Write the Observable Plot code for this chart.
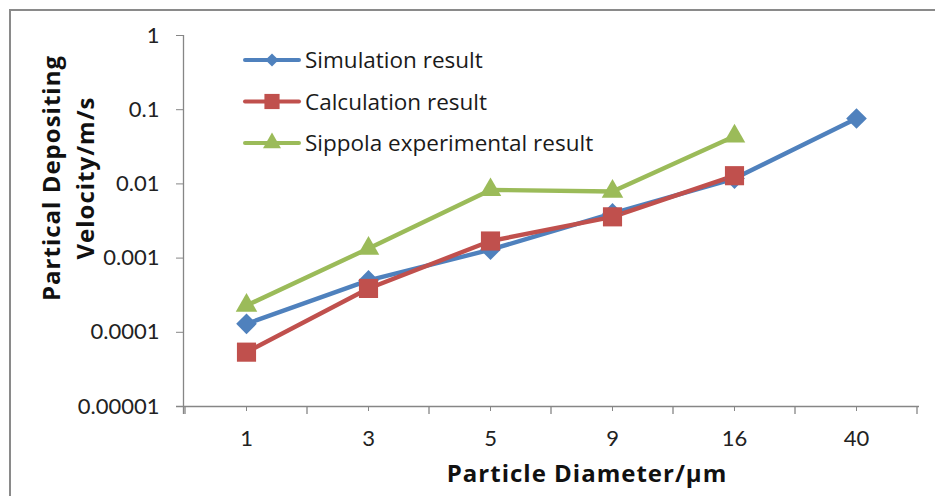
<!DOCTYPE html>
<html><head><meta charset="utf-8">
<script src="https://cdn.jsdelivr.net/npm/d3@7"></script>
<script src="https://cdn.jsdelivr.net/npm/@observablehq/plot@0.6"></script>
<style>body{margin:0;background:#fff;overflow:hidden;} #chart{width:935px;height:496px;}</style>
</head><body><div id="chart"></div>
<script>
// ---- data ----
const diameters = ["1", "3", "5", "9", "16", "40"];
const simulation = [1.3e-4, 5.0e-4, 1.3e-3, 4.0e-3, 0.0118, 0.076];
const calculation = [5.4e-5, 3.9e-4, 1.7e-3, 3.6e-3, 0.0129, null];
const sippola = [2.3e-4, 1.35e-3, 8.3e-3, 7.9e-3, 0.044, null];
const yTicks = [1e-5, 1e-4, 1e-3, 1e-2, 1e-1, 1];
const yTickLabels = ["0.00001", "0.0001", "0.001", "0.01", "0.1", "1"];
const seriesNames = ["Simulation result", "Calculation result", "Sippola experimental result"];
const seriesColors = ["#4F81BD", "#C0504D", "#9BBB59"];
const xTitle = "Particle Diameter/µm";
const yTitleLines = ["Partical Depositing", "Velocity/m/s"];

const seriesValues = [simulation, calculation, sippola];
const rows = seriesValues.map(vals => diameters.map((d, i) => ({d, v: vals[i]})).filter(r => r.v != null));

const FONT = "Open Sans, sans-serif";
const TICKFONT = "Lato, sans-serif";
const AXIS = "#868686";

function frameMark(index, scales, values, dims) {
  const g = d3.create("svg:g");
  const x = scales.x;
  const step = x(diameters[1]) - x(diameters[0]);
  const left = dims.marginLeft, right = dims.width - dims.marginRight;
  const top = dims.marginTop, bottom = dims.height - dims.marginBottom;
  g.append("rect").attr("x", 10).attr("y", 10).attr("width", dims.width).attr("height", dims.height)
    .attr("fill", "none").attr("stroke", "#8a8a8a").attr("stroke-width", 2);
  g.append("line").attr("x1", left + 0.5).attr("x2", left + 0.5).attr("y1", top).attr("y2", bottom + 8).attr("stroke", AXIS).attr("stroke-width", 1.3);
  g.append("line").attr("x1", left - 7).attr("x2", right).attr("y1", bottom + 0.5).attr("y2", bottom + 0.5).attr("stroke", AXIS).attr("stroke-width", 1.3);
  const bounds = diameters.map(d => x(d) - step / 2).concat([x(diameters[diameters.length - 1]) + step / 2]);
  bounds.forEach(b => g.append("line").attr("x1", b).attr("x2", b).attr("y1", bottom).attr("y2", bottom + 8).attr("stroke", AXIS).attr("stroke-width", 1.3));
  return g.node();
}

function titleMark(index, scales, values, dims) {
  const g = d3.create("svg:g").attr("fill", "#111").attr("font-family", FONT).attr("font-weight", "bold").attr("font-size", 24);
  const left = dims.marginLeft, right = dims.width - dims.marginRight;
  const bottom = dims.height - dims.marginBottom;
  g.append("text").attr("x", (left + right) / 2 + 36).attr("y", bottom + 76).attr("text-anchor", "middle")
    .style("letter-spacing", "1px").text(xTitle);
  const cy = 178, cx = [50, 84];
  yTitleLines.forEach((t, i) => {
    g.append("text").attr("transform", `translate(${cx[i]},${cy}) rotate(-90)`).attr("text-anchor", "middle")
      .attr("dominant-baseline", "central").style("letter-spacing", "1px").text(t);
  });
  return g.node();
}

function legendMark(index, scales, values, dims) {
  const g = d3.create("svg:g");
  const syms = [d3.symbolDiamond2, d3.symbolSquare, d3.symbolTriangle];
  const sizes = [110, 230, 140];
  const x0 = 245, x1 = 299, xm = 272, rowY = [60, 101.5, 143];
  seriesNames.forEach((name, i) => {
    g.append("line").attr("x1", x0).attr("x2", x1).attr("y1", rowY[i]).attr("y2", rowY[i])
      .attr("stroke", seriesColors[i]).attr("stroke-width", 4).attr("stroke-linecap", "round");
    g.append("path").attr("d", d3.symbol(syms[i], sizes[i])()).attr("transform", `translate(${xm},${rowY[i]})`)
      .attr("fill", seriesColors[i]);
    g.append("text").attr("x", 305).attr("y", rowY[i] + 8).attr("text-anchor", "start").text(name)
      .attr("font-family", FONT).attr("font-size", 22.5).attr("fill", "#1a1a1a");
  });
  return g.node();
}

const marks = [
  frameMark,
  Plot.axisY({ticks: yTicks, tickFormat: d => yTickLabels[yTicks.indexOf(d)], tickSize: 7, tickPadding: 17,
    fontSize: 22, fontFamily: TICKFONT, stroke: AXIS, fill: "#222", label: null}),
  Plot.axisX({tickSize: 5, tickPadding: 19, fontSize: 22, fontFamily: TICKFONT, stroke: AXIS, fill: "#222", label: null}),
];
const syms = ["diamond2", "square", "triangle"];
const radii = [9.3, 10.8, 8.0];
rows.forEach((data, i) => {
  marks.push(Plot.line(data, {x: "d", y: "v", stroke: seriesColors[i], strokeWidth: 4.4, strokeLinejoin: "round"}));
});
rows.forEach((data, i) => {
  marks.push(Plot.dot(data, {x: "d", y: "v", symbol: () => syms[i], fill: seriesColors[i], r: radii[i], stroke: "none"}));
});
marks.push(titleMark, legendMark);

const chart = Plot.plot({
  width: 935, height: 496,
  marginLeft: 183, marginRight: 16, marginTop: 35, marginBottom: 90,
  style: {background: "#fff", overflow: "hidden"},
  x: {type: "point", domain: diameters, padding: 0.5},
  y: {type: "log", domain: [1e-5, 1]},
  marks
});
document.getElementById("chart").appendChild(chart);
</script>
</body></html>
